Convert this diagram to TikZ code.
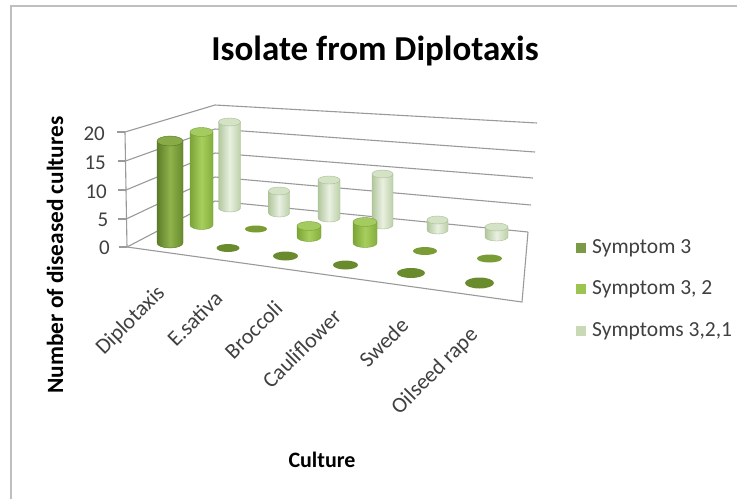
\documentclass[tikz,border=0pt]{standalone}
\usepackage{fontspec}
\setmainfont{Carlito}
\definecolor{gridgray}{HTML}{9A9A9A}
\definecolor{framegray}{HTML}{BFBFBF}
\definecolor{lblgray}{HTML}{404040}
\definecolor{sAdark}{HTML}{5C7C27}
\definecolor{sAlight}{HTML}{8FB34C}
\definecolor{sAright}{HTML}{688A2D}
\definecolor{sAcap}{HTML}{88AA47}
\definecolor{sAedge}{HTML}{557522}
\definecolor{sBdark}{HTML}{7BA437}
\definecolor{sBlight}{HTML}{A6CF5E}
\definecolor{sBright}{HTML}{84AE3C}
\definecolor{sBcap}{HTML}{A4CB60}
\definecolor{sBedge}{HTML}{779F33}
\definecolor{sCdark}{HTML}{B2C79D}
\definecolor{sClight}{HTML}{E9F0E1}
\definecolor{sCright}{HTML}{BCD0A8}
\definecolor{sCcap}{HTML}{D4E2C6}
\definecolor{sCedge}{HTML}{A8BD92}
\definecolor{diskA}{HTML}{6A8B2D}
\definecolor{diskB}{HTML}{7A9C35}
\definecolor{legA}{HTML}{7A9A45}
\definecolor{legB}{HTML}{9CC451}
\definecolor{legC}{HTML}{C9D9B5}
\tikzset{
  gridln/.style={draw=gridgray, line width=1.1pt},
  bodyA/.style={left color=sAdark, right color=sAright, middle color=sAlight, draw=sAedge, line width=0.4pt},
  bodyB/.style={left color=sBdark, right color=sBright, middle color=sBlight, draw=sBedge, line width=0.4pt},
  bodyC/.style={left color=sCdark, right color=sCright, middle color=sClight, draw=sCedge, line width=0.4pt},
  capA/.style={fill=sAcap, draw=sAedge, line width=0.4pt},
  capB/.style={fill=sBcap, draw=sBedge, line width=0.4pt},
  capC/.style={fill=sCcap, draw=sCedge, line width=0.4pt},
  diskstyA/.style={fill=diskA},
  diskstyB/.style={fill=diskB},
  ticklbl/.style={font=\fontsize{21}{24}\selectfont, text=lblgray, anchor=east, inner sep=0pt},
  catlbl/.style={font=\fontsize{22}{25}\selectfont, text=lblgray, anchor=base east, rotate=45, inner sep=0pt},
  axtitle/.style={font=\fontsize{22}{25}\selectfont\bfseries, text=black, inner sep=0pt},
  legsq/.style={minimum size=10pt, inner sep=0pt},
  legtxt/.style={font=\fontsize{21.5}{24}\selectfont, text=lblgray, anchor=west, inner sep=0pt},
}
\newcommand\cylbar[6]{%
  \shadedraw[body#6] ({#1-#4},#2) -- ({#1-#4},#3) arc[start angle=180,end angle=360,x radius=#4pt,y radius=#5pt] -- ({#1+#4},#2) -- cycle;
  \filldraw[cap#6] (#1,#2) ellipse[x radius=#4pt,y radius=#5pt];
}
\newcommand\flatdisk[5]{%
  \fill[disksty#5] (#1,#2) ellipse[x radius=#3pt,y radius=#4pt];
}
\begin{document}
\begin{tikzpicture}[x=1pt,y=-1pt]
\fill[white] (0,0) rectangle (737,499);
\useasboundingbox (0,0) rectangle (737,499);
% frame
\draw[framegray, line width=1.5pt] (11,499) -- (11,6) -- (737,6);

% coordinates of walls
\coordinate (lf0) at (127,247); \coordinate (lb0) at (215,201); \coordinate (rb0) at (528,232);
\coordinate (lf1) at (126.2,219); \coordinate (lb1) at (215,177); \coordinate (rb1) at (531,205);
\coordinate (lf2) at (126,190); \coordinate (lb2) at (215,153); \coordinate (rb2) at (533,178);
\coordinate (lf3) at (125.5,161); \coordinate (lb3) at (215,129); \coordinate (rb3) at (535,152);
\coordinate (lf4) at (125,132); \coordinate (lb4) at (215,105); \coordinate (rb4) at (537,123);
\coordinate (rf0) at (522,302);

% gridlines on walls
\foreach \k in {0,...,4}{
  \draw[gridln] (lf\k) -- (lb\k) -- (rb\k);
  \draw[gridln] (lf\k) -- ++(-8,0);
}
% axis and floor
\draw[gridln] (lf4) -- (lf0);
\draw[gridln] (lf0) -- (rf0) -- (rb0);

% tick labels
\node[ticklbl] (t20) at (105,134) {20};
\node[ticklbl] (t15) at (106,163) {15};
\node[ticklbl] (t10) at (107,192) {10};
\node[ticklbl] (t5)  at (108.5,220) {5};
\node[ticklbl] (t0)  at (110,248) {0};

% back row (Symptoms 3,2,1)
\cylbar{229.5}{122}{208}{11}{4}{C}
\cylbar{279}{191}{213}{10.5}{4}{C}
\cylbar{329}{180}{218}{11}{4}{C}
\cylbar{382.5}{174}{225}{10.5}{4}{C}
\cylbar{437.5}{220}{230}{10.5}{4}{C}
\cylbar{496.5}{227}{237}{11.5}{4}{C}

% middle row (Symptom 3, 2)
\cylbar{201.5}{132}{225}{11.5}{4.5}{B}
\flatdisk{256}{229}{11}{3.5}{B}
\cylbar{309}{226}{237}{12}{4.5}{B}
\cylbar{365}{222}{243}{12}{4.5}{B}
\flatdisk{425}{251}{12}{4}{B}
\flatdisk{489.5}{258.5}{12.5}{4}{B}

% front row (Symptom 3)
\cylbar{170}{141}{243}{13}{5}{A}
\flatdisk{228}{248}{11.5}{4}{A}
\flatdisk{285.5}{256}{12.5}{4.5}{A}
\flatdisk{345.5}{265}{12.5}{4.5}{A}
\flatdisk{411}{273}{14}{5}{A}
\flatdisk{479.5}{283}{14.5}{5.5}{A}

% category labels
\node[catlbl] (c1) at (166,294) {Diplotaxis};
\node[catlbl] (c2) at (224,300) {E.sativa};
\node[catlbl] (c3) at (284,310) {Broccoli};
\node[catlbl] (c4) at (343,318) {Cauliflower};
\node[catlbl] (c5) at (410,327) {Swede};
\node[catlbl] (c6) at (479,336) {Oilseed rape};

% titles
\node[font=\fontsize{35}{40}\selectfont\bfseries, anchor=base, inner sep=0pt] (title) at (375,60) {Isolate from Diplotaxis};
\node[axtitle, rotate=90, font=\fontsize{23.3}{26}\selectfont\bfseries] (ytitle) at (55,255) {Number of diseased cultures};
\node[axtitle] (xtitle) at (322,460) {Culture};

% legend
\node[legsq, fill=legA] (lsq1) at (581,248) {};
\node[legtxt] (ltx1) at (592,248) {Symptom 3};
\node[legsq, fill=legB] (lsq2) at (581,289) {};
\node[legtxt] (ltx2) at (592,289) {Symptom 3, 2};
\node[legsq, fill=legC] (lsq3) at (581,331) {};
\node[legtxt] (ltx3) at (592,331) {Symptoms 3,2,1};
\end{tikzpicture}
\end{document}
